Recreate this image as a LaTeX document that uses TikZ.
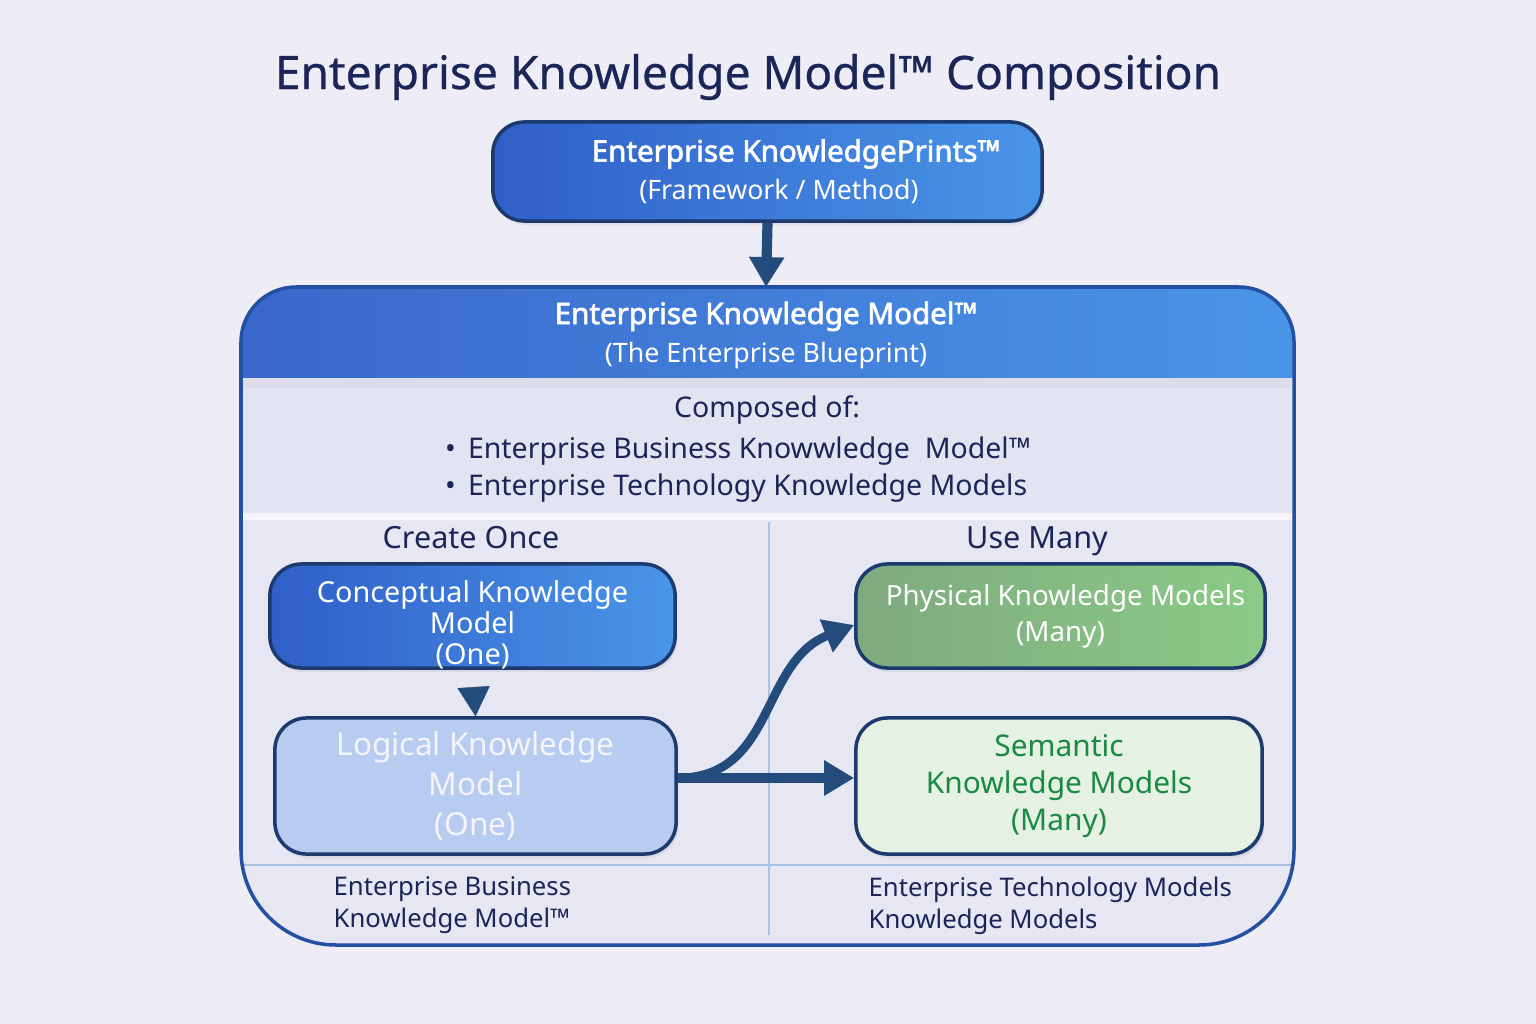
\documentclass[tikz,border=0pt]{standalone}
\usepackage{fontspec}
\setmainfont{Noto Sans}[BoldFont={Noto Sans},BoldFeatures={FakeBold=2.2}]
\usepackage{tikz}
\usetikzlibrary{arrows.meta,positioning,calc,shadows}
\usepackage{xcolor}
\definecolor{cBack}{HTML}{EEEDF6}
\definecolor{cNavy}{HTML}{1B2558}
\definecolor{cBlueL}{HTML}{2F5FC8}
\definecolor{cBlueR}{HTML}{4A95E8}
\definecolor{cEdge}{HTML}{1C3A6E}
\definecolor{cArrow}{HTML}{234B7B}
\definecolor{cFrame}{HTML}{2350A0}
\definecolor{cStripe}{HTML}{DCDDE8}
\definecolor{cComp}{HTML}{E3E4F2}
\definecolor{cWhite}{HTML}{F4F4FA}
\definecolor{cLow}{HTML}{E7E7F3}
\definecolor{cDivide}{HTML}{A7C3E6}
\definecolor{cLogic}{HTML}{B8CBF0}
\definecolor{cGreenL}{HTML}{7FAA7F}
\definecolor{cGreenR}{HTML}{8ACB86}
\definecolor{cSeman}{HTML}{E5F1E2}
\definecolor{cSemTxt}{HTML}{198A42}
\tikzset{
  basebox/.style={rectangle,rounded corners=9pt,draw=cEdge,line width=1pt,
                  align=center,inner sep=0pt,
                  drop shadow={opacity=0.12,shadow xshift=0.6pt,shadow yshift=-1.2pt}},
  bluenode/.style={basebox,left color=cBlueL,right color=cBlueR,text=white},
  lightnode/.style={basebox,fill=cLogic,text=cWhite},
  greennode/.style={basebox,left color=cGreenL,right color=cGreenR,text=white},
  semnode/.style={basebox,fill=cSeman,text=cSemTxt},
  label/.style={text=cNavy,align=center},
  bigarr/.style={-{Triangle[width=9.5pt,length=8.5pt]},line width=2.9pt,color=cArrow},
  tiparr/.style={-{Triangle[width=9.2pt,length=8.3pt]},line width=0.1pt,color=cArrow}
}
\newcommand{\boldline}[1]{{\fontsize{8.4pt}{10.8pt}\selectfont\textbf{#1}}}
\def\ekmshape{(241,850) -- (241,342) .. controls (241,311.6) and (265.6,287) .. (296,287)
  -- (1239,287) .. controls (1269.4,287) and (1294,311.6) .. (1294,342)
  -- (1294,850) .. controls (1294,902.4) and (1251.6,945) .. (1199,945)
  -- (336,945) .. controls (283.6,945) and (241,902.4) .. (241,850) -- cycle}

\begin{document}
\begin{tikzpicture}[x=0.01cm,y=-0.01cm]
  \useasboundingbox (0,0) rectangle (1536,1024);
  \fill[cBack] (0,0) rectangle (1536,1024);

  % title
  \node[text=cNavy,anchor=base,font=\fontsize{13.1pt}{16pt}\selectfont\addfontfeature{FakeBold=0.6}]
      (title) at (748,89) {Enterprise Knowledge Model™ Composition};

  % framework box
  \node[bluenode,minimum width=5.49cm,minimum height=0.99cm,
        font=\fontsize{7.6pt}{10.8pt}\selectfont] (prints) at (767.5,171.5)
      {\hspace*{0.57cm}\boldline{Enterprise KnowledgePrints™}\\\hspace*{0.23cm}(Framework / Method)};

  % container
  \fill[cLow] \ekmshape;
  \begin{scope}
    \clip \ekmshape;
    \shade[left color=cBlueL!95!white,right color=cBlueR] (241,287) rectangle (1294,378);
    \fill[cStripe] (241,378) rectangle (1294,388);
    \fill[cComp] (241,388) rectangle (1294,513);
    \fill[cWhite] (241,513) rectangle (1294,520);
  \end{scope}
  \draw[cDivide,line width=0.6pt] (241,865) -- (1294,865);
  \draw[cDivide,line width=0.6pt] (769,522) -- (769,935);
  \draw[cFrame,line width=1pt] \ekmshape;
  \coordinate (ekmtop) at (766,287);

  \node[text=white,align=center,font=\fontsize{7.6pt}{10.8pt}\selectfont] (ekmhead) at (766,335)
      {\boldline{Enterprise Knowledge Model™}\\(The Enterprise Blueprint)};
  \node[label,font=\fontsize{8.1pt}{10pt}\selectfont] (composed) at (767,410) {Composed of:};
  \node[label,align=left,font=\fontsize{8.1pt}{10.5pt}\selectfont] (parts) at (738,470)
      {•\, Enterprise Business Knowwledge~~Model™\\•\, Enterprise Technology Knowledge Models};

  % columns
  \node[label,anchor=base,font=\fontsize{8.7pt}{10pt}\selectfont] (once) at (471,548) {Create Once};
  \node[label,anchor=base,font=\fontsize{8.7pt}{10pt}\selectfont] (many) at (1037,548) {Use Many};

  \node[bluenode,minimum width=4.05cm,minimum height=1.04cm,
        font=\fontsize{8.2pt}{8.8pt}\selectfont] (concept) at (472.5,616)
      {\raisebox{-0.11cm}[\height][\depth]{\begin{tabular}{@{}c@{}}Conceptual Knowledge\\Model\\(One)\end{tabular}}};
  \node[lightnode,minimum width=4.01cm,minimum height=1.36cm,
        font=\fontsize{9pt}{11.4pt}\selectfont] (logical) at (475.5,786)
      {Logical Knowledge\\Model\\(One)};
  \node[greennode,minimum width=4.09cm,minimum height=1.04cm,
        font=\fontsize{7.9pt}{10.2pt}\selectfont] (physical) at (1060.5,616)
      {\hspace*{0.1cm}Physical Knowledge Models\\(Many)};
  \node[semnode,minimum width=4.06cm,minimum height=1.36cm,
        font=\fontsize{8.5pt}{10.5pt}\selectfont] (semantic) at (1059,786)
      {Semantic\\Knowledge Models\\(Many)};

  % footers
  \node[text=cNavy,align=left,anchor=north west,inner sep=0pt,
        font=\fontsize{7.3pt}{9.1pt}\selectfont] (bizfoot) at (333,876)
      {Enterprise Business\\Knowledge Model™};
  \node[text=cNavy,align=left,anchor=north west,inner sep=0pt,
        font=\fontsize{7.3pt}{9.1pt}\selectfont] (techfoot) at (868,876)
      {Enterprise Technology Models\\Knowledge Models};

  % connectors
  \draw[bigarr] (prints.south) -- (ekmtop);
  \draw[tiparr,shorten <=0.19cm] (concept.south) -- (logical.north);
  \draw[bigarr,line width=2.5pt] ($(logical.east)+(0,-8)$) .. controls (775,778) and (760,662)
      .. ($(physical.west)+(0,9)$);
  \draw[bigarr] ($(logical.east)+(0,-8)$) -- ($(semantic.west)+(0,-8)$);
\end{tikzpicture}
\end{document}
